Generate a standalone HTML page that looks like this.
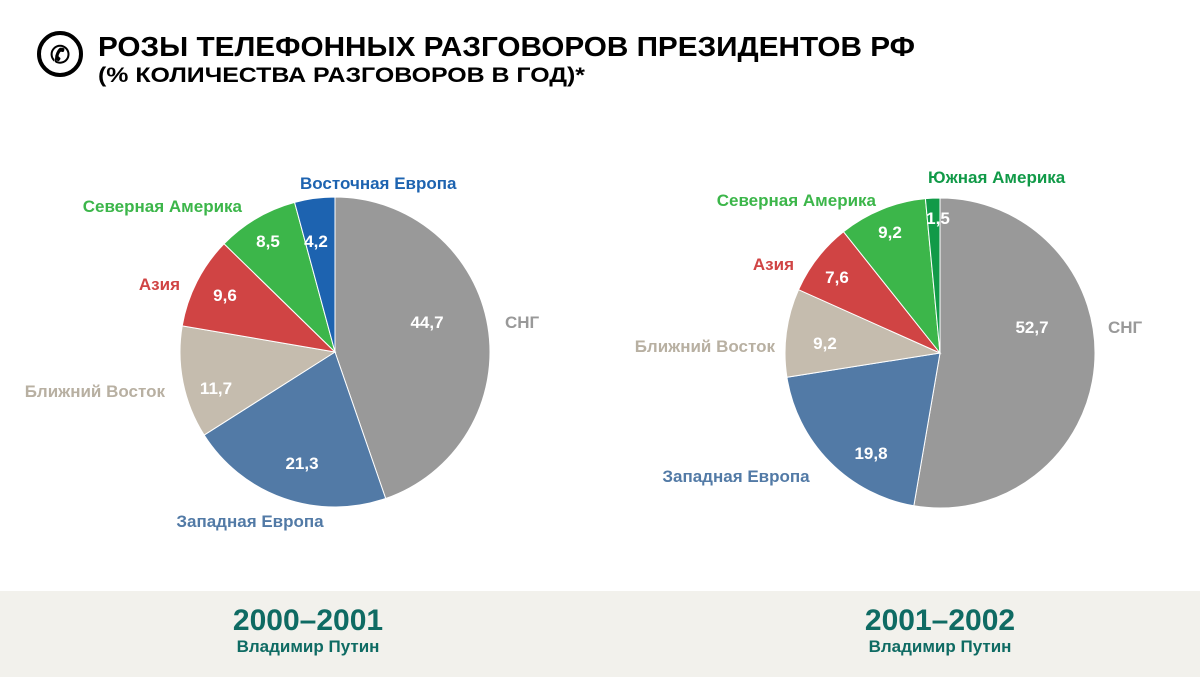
<!DOCTYPE html>
<html><head><meta charset="utf-8"><style>
body{margin:0;width:1200px;height:700px;background:#fff;overflow:hidden;font-family:"Liberation Sans",sans-serif;position:relative}
.band{position:absolute;left:0;top:591px;width:1200px;height:86px;background:#f2f1ec}
.yr{position:absolute;text-align:center;color:#0f6b63;font-weight:bold;width:300px}
</style></head><body>
<svg width="1200" height="700" style="position:absolute;left:0;top:0" id="s" font-family="Liberation Sans, sans-serif" font-weight="bold">
<circle cx="60" cy="54" r="21" fill="none" stroke="#000" stroke-width="4"/>
<text x="60" y="63" font-size="24" text-anchor="middle" fill="#000">✆</text>
<text x="98" y="56" font-size="28" fill="#000" textLength="817" lengthAdjust="spacingAndGlyphs">РОЗЫ ТЕЛЕФОННЫХ РАЗГОВОРОВ ПРЕЗИДЕНТОВ РФ</text>
<text x="98" y="82" font-size="21" fill="#000" textLength="487" lengthAdjust="spacingAndGlyphs">(% КОЛИЧЕСТВА РАЗГОВОРОВ В ГОД)*</text>
<g id="p1"></g><g id="p2"></g>
<g font-size="17" fill="#fff" text-anchor="middle">
<text x="427" y="328">44,7</text><text x="302" y="469">21,3</text><text x="216" y="394">11,7</text>
<text x="225" y="301">9,6</text><text x="268" y="247">8,5</text><text x="316" y="247">4,2</text>
<text x="1032" y="333">52,7</text><text x="871" y="459">19,8</text><text x="825" y="349">9,2</text>
<text x="837" y="283">7,6</text><text x="890" y="238">9,2</text><text x="938" y="224">1,5</text>
</g>
<g font-size="17">
<text x="505" y="328" fill="#999">СНГ</text>
<text x="250" y="527" fill="#527aa6" text-anchor="middle">Западная Европа</text>
<text x="165" y="397" fill="#b8b0a2" text-anchor="end">Ближний Восток</text>
<text x="180" y="290" fill="#d04444" text-anchor="end">Азия</text>
<text x="242" y="212" fill="#3cb64a" text-anchor="end">Северная Америка</text>
<text x="300" y="189" fill="#1d63b0">Восточная Европа</text>
<text x="1108" y="333" fill="#999">СНГ</text>
<text x="736" y="482" fill="#527aa6" text-anchor="middle">Западная Европа</text>
<text x="775" y="352" fill="#b8b0a2" text-anchor="end">Ближний Восток</text>
<text x="794" y="270" fill="#d04444" text-anchor="end">Азия</text>
<text x="876" y="206" fill="#3cb64a" text-anchor="end">Северная Америка</text>
<text x="928" y="183" fill="#119a48">Южная Америка</text>
</g>
</svg>
<div class="band"></div>
<div class="yr" style="left:158px;top:604px;font-size:30px">2000–2001</div>
<div class="yr" style="left:158px;top:637px;font-size:17px">Владимир Путин</div>
<div class="yr" style="left:790px;top:604px;font-size:30px">2001–2002</div>
<div class="yr" style="left:790px;top:637px;font-size:17px">Владимир Путин</div>
<script>
function pie(id,cx,cy,r,vals,cols){var g=document.getElementById(id),a=0,ns="http://www.w3.org/2000/svg";
vals.forEach(function(v,i){var a0=a;a+=v/100*2*Math.PI;
var x0=cx+r*Math.sin(a0),y0=cy-r*Math.cos(a0),x1=cx+r*Math.sin(a),y1=cy-r*Math.cos(a);
var p=document.createElementNS(ns,"path");
p.setAttribute("d","M"+cx+","+cy+"L"+x0+","+y0+"A"+r+","+r+" 0 "+(v>50?1:0)+" 1 "+x1+","+y1+"Z");
p.setAttribute("fill",cols[i]);p.setAttribute("stroke","#fff");p.setAttribute("stroke-width","1");g.appendChild(p);});}
pie("p1",335,352,155,[44.7,21.3,11.7,9.6,8.5,4.2],["#999999","#527aa6","#c5bcae","#d04444","#3cb64a","#1d63b0"]);
pie("p2",940,353,155,[52.7,19.8,9.2,7.6,9.2,1.5],["#999999","#527aa6","#c5bcae","#d04444","#3cb64a","#119a48"]);
</script>
</body></html>
